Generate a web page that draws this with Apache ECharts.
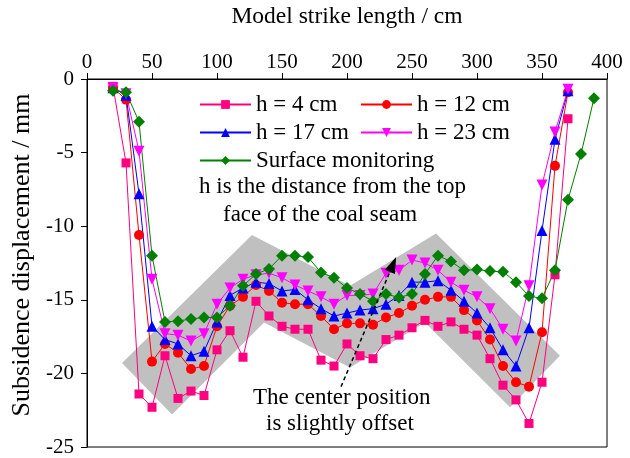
<!DOCTYPE html>
<html>
<head>
<meta charset="utf-8">
<script src="https://cdn.jsdelivr.net/npm/echarts@6/dist/echarts.min.js"></script>
<style>
  html, body { margin: 0; padding: 0; background: #fff; }
  #chart { width: 630px; height: 458px; }
</style>
</head>
<body>
<div id="chart"></div>
<script>
// Measuring positions along the strike (cm)
const strikeLayers = [20, 30, 40, 50, 60, 70, 80, 90, 100, 110, 120, 130, 140, 150, 160, 170, 180, 190,
  200, 210, 220, 230, 240, 250, 260, 270, 280, 290, 300, 310, 320, 330, 340, 350, 360, 370];
const strikeSurface = [20, 30, 40, 50, 60, 70, 80, 90, 100, 110, 120, 130, 140, 150, 160, 170, 180, 190,
  200, 210, 220, 230, 240, 250, 260, 270, 280, 290, 300, 310, 320, 330, 340, 350, 360, 370, 380, 390];

// Subsidence (mm) at each height above the coal seam
const h4 = [-0.5, -5.7, -21.4, -22.3, -18.8, -21.7, -21.2, -21.5, -18.4, -17.1, -18.9, -15.1, -16.1, -16.8,
  -17.0, -17.0, -19.1, -19.5, -18.0, -18.8, -19.0, -17.7, -17.4, -16.9, -16.4, -16.8, -16.5, -17.0, -17.4,
  -19.0, -20.8, -21.8, -23.4, -20.6, -13.3, -2.7];
const h12 = [-0.6, -1.4, -10.6, -19.2, -18.0, -18.6, -19.7, -19.5, -16.8, -15.4, -14.8, -14.0, -14.4, -15.2,
  -15.3, -15.3, -16.1, -17.0, -16.6, -16.6, -16.7, -16.2, -15.9, -15.4, -15.0, -14.8, -14.8, -15.7, -16.4,
  -17.7, -19.5, -20.6, -20.9, -17.2, -5.9, -0.9];
const h17 = [-0.6, -1.1, -7.8, -16.8, -17.7, -18.0, -18.8, -18.5, -16.5, -14.7, -14.2, -13.8, -13.9, -14.4,
  -14.3, -15.0, -15.6, -16.1, -15.9, -15.7, -15.6, -15.3, -14.7, -13.8, -13.8, -13.7, -14.35, -15.1, -15.9,
  -16.9, -18.4, -19.5, -16.9, -10.3, -4.1, -0.8];
const h23 = [-0.6, -1.0, -4.9, -13.6, -17.3, -17.4, -17.8, -17.3, -15.3, -14.2, -13.6, -13.3, -13.2, -13.5,
  -14.0, -14.4, -14.8, -15.3, -14.7, -14.7, -14.6, -13.2, -13.0, -12.3, -12.5, -13.0, -13.8, -14.35, -14.8,
  -15.6, -17.0, -17.8, -14.05, -7.2, -3.6, -0.7];
const surface = [-0.8, -0.9, -2.9, -12.0, -16.5, -16.45, -16.3, -16.2, -16.2, -15.4, -14.05, -13.25, -12.9,
  -12.0, -12.0, -12.1, -13.15, -13.5, -14.2, -14.6, -15.1, -14.6, -14.85, -14.6, -13.25, -12.0, -12.4, -13.0,
  -12.95, -13.05, -13.1, -13.8, -14.75, -14.9, -13.0, -8.2, -5.1, -1.3];

// Outline of the shaded subsidence band, in (cm, mm)
const bandX = [26.9, 126.9, 202.3, 268.5, 363.8, 325.4, 260.0, 202.3, 136.2, 65.4];
const bandY = [-19.3, -10.6, -14.05, -10.5, -18.8, -22.3, -16.55, -19.6, -16.55, -22.8];

// Arrow pointing at the shifted centre, in (cm, mm)
const arrowFrom = [195.4, -20.9];
const arrowTo = [235.4, -12.6];

const FONT = 'Liberation Serif';
const TEXT_FONT = '23px "Liberation Serif"';

const pair = (xs, ys) => xs.map((x, i) => [x, ys[i]]);

const lineSeries = (name, xs, ys, color, symbol, size, rotate) => ({
  name: name,
  type: 'line',
  data: pair(xs, ys),
  symbol: symbol,
  symbolSize: size,
  symbolRotate: rotate || 0,
  showSymbol: true,
  color: color,
  lineStyle: { color: color, width: 1 },
  itemStyle: { color: color, borderWidth: 0 },
  z: 3,
  animation: false
});

const chart = echarts.init(document.getElementById('chart'), null, { renderer: 'canvas' });

const legendCommon = {
  orient: 'vertical',
  itemWidth: 51,
  itemHeight: 11,
  itemGap: 5,
  textStyle: { fontFamily: FONT, fontSize: 23, color: '#000', padding: [0, 0, 0, 0] },
  padding: 0,
  selectedMode: false
};

chart.setOption({
  animation: false,
  backgroundColor: '#fff',
  grid: { left: 87, right: 23, top: 77, bottom: 11, show: true, borderColor: '#000', borderWidth: 1 },
  xAxis: {
    type: 'value',
    position: 'top',
    min: 0, max: 400, interval: 50,
    name: 'Model strike length / cm',
    nameLocation: 'middle',
    nameGap: 50,
    nameTextStyle: { fontFamily: FONT, fontSize: 23.5, color: '#000' },
    axisLine: { lineStyle: { color: '#000', width: 1 } },
    axisTick: { inside: false, length: 6, lineStyle: { color: '#000' } },
    axisLabel: { fontFamily: FONT, fontSize: 21, color: '#000', margin: 6 },
    splitLine: { show: false }
  },
  yAxis: {
    type: 'value',
    min: -25, max: 0, interval: 5,
    axisLine: { lineStyle: { color: '#000', width: 1 } },
    axisTick: { inside: false, length: 6, lineStyle: { color: '#000' } },
    axisLabel: { fontFamily: FONT, fontSize: 21, color: '#000', margin: 13 },
    splitLine: { show: false }
  },
  legend: [
    Object.assign({ left: 199, top: 93, data: ['h = 4 cm', 'h = 17 cm', 'Surface monitoring'] }, legendCommon),
    Object.assign({ left: 360, top: 93, data: ['h = 12 cm', 'h = 23 cm'] }, legendCommon)
  ],
  graphic: [
    { type: 'text', x: 22, y: 255, rotation: Math.PI / 2,
      style: { text: 'Subsidence displacement / mm', font: '26px "Liberation Serif"', fill: '#000',
               align: 'center', verticalAlign: 'middle' } },
    { type: 'text', left: 199, top: 175,
      style: { text: 'h is the distance from the top', font: TEXT_FONT, fill: '#000' } },
    { type: 'text', left: 223, top: 203,
      style: { text: 'face of the coal seam', font: TEXT_FONT, fill: '#000' } },
    { type: 'text', left: 253, top: 386,
      style: { text: 'The center position', font: TEXT_FONT, fill: '#000' } },
    { type: 'text', left: 266, top: 412,
      style: { text: 'is slightly offset', font: TEXT_FONT, fill: '#000' } }
  ],
  series: [
    {
      type: 'custom',
      name: 'band',
      z: 1,
      silent: true,
      data: [0],
      renderItem: function (params, api) {
        const pts = bandX.map((x, i) => api.coord([x, bandY[i]]));
        return { type: 'polygon', shape: { points: pts }, style: { fill: '#c0c0c0' } };
      },
      markLine: {
        silent: true,
        symbol: ['none', 'triangle'],
        symbolSize: [11, 16],
        label: { show: false },
        lineStyle: { color: '#000', type: [4, 3], width: 1.5 },
        itemStyle: { color: '#000' },
        data: [[{ coord: arrowFrom }, { coord: arrowTo }]],
        z: 4
      }
    },
    lineSeries('h = 4 cm', strikeLayers, h4, '#ff0080', 'rect', 9),
    lineSeries('h = 12 cm', strikeLayers, h12, '#ff0000', 'circle', 10),
    lineSeries('h = 17 cm', strikeLayers, h17, '#0000ff', 'triangle', 11),
    lineSeries('h = 23 cm', strikeLayers, h23, '#ff00ff', 'triangle', 11, 180),
    lineSeries('Surface monitoring', strikeSurface, surface, '#008000', 'diamond', 12)
  ]
});
</script>
</body>
</html>
